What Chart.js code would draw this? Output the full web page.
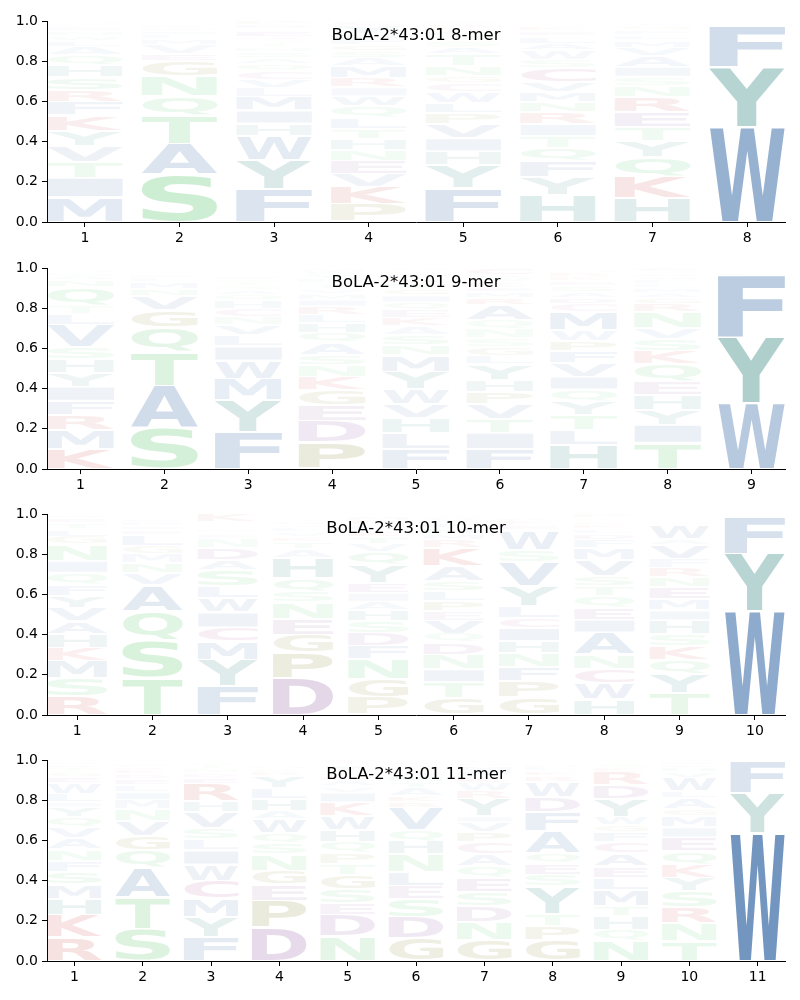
<!DOCTYPE html>
<html><head><meta charset="utf-8">
<script src="https://cdn.jsdelivr.net/npm/chart.js@4"></script>
<style>
body{margin:0;background:#fff;width:800px;height:1000px;position:relative;overflow:hidden}
canvas{position:absolute;left:0}
</style>
</head><body>
<canvas id="c0" width="800" height="246" style="top:1px"></canvas>
<canvas id="c1" width="800" height="246" style="top:248px"></canvas>
<canvas id="c2" width="800" height="246" style="top:494px"></canvas>
<canvas id="c3" width="800" height="246" style="top:740px"></canvas>
<script>
const titles = ["BoLA-2*43:01 8-mer","BoLA-2*43:01 9-mer","BoLA-2*43:01 10-mer","BoLA-2*43:01 11-mer"];

// letters per position, bottom -> top, with probabilities (stack heights)
const letters8 = ["MITVYKFRSHQALWNECG","SATQNGEVMLIDKRC","FYWHIMLVCQASNTGREKDP","PKVENHTLQWIRMASGFDYC",
  "FYHIVPLWCGNTASQMKRE","HYFQTIRNMVCSWALEKGDP","HKQYTERNSIAVMLFGWD","WYFLMI"];
const heights8 = [
  [.125,.095,.08,.08,.075,.075,.065,.06,.065,.06,.05,.04,.03,.025,.025,.02,.015,.015],
  [.235,.155,.14,.095,.1,.075,.035,.045,.03,.02,.02,.015,.015,.01,.01],
  [.165,.145,.12,.06,.065,.065,.045,.04,.045,.035,.03,.03,.025,.02,.015,.015,.03,.01,.02,.02],
  [.088,.087,.065,.065,.055,.055,.05,.055,.055,.05,.045,.045,.06,.04,.035,.03,.03,.025,.04,.025],
  [.167,.115,.07,.065,.07,.055,.05,.055,.045,.035,.05,.06,.035,.03,.025,.025,.02,.015,.013],
  [.133,.09,.08,.065,.06,.06,.06,.05,.05,.05,.07,.04,.045,.035,.035,.025,.02,.015,.012,.005],
  [.12,.105,.1,.08,.068,.075,.075,.055,.045,.05,.055,.04,.035,.025,.025,.02,.015,.012],
  [.475,.295,.205,.01,.008,.007]];

const letters9 = ["KMRFIYHSVLTQNAEGC","SATQGVNMLEIDKR","FYMWILVNCHQASTGERKPD","PDEGKNSAQHLRIMVTFYWC",
  "FLHVWYMNSAKEQIGTRDPC","FITVPHYLGSNQARMEKWDC","HLTYQIVFPWMCDASEKRGN","TIYHEQKSVNRGAMLFWDPC","WYFLMIH"];
const heights9 = [
  [.1,.095,.075,.07,.07,.07,.065,.06,.11,.055,.045,.09,.035,.02,.015,.015,.01],
  [.205,.21,.17,.12,.085,.07,.035,.035,.02,.015,.01,.01,.008,.007],
  [.185,.16,.105,.09,.07,.055,.05,.04,.04,.04,.03,.025,.02,.02,.015,.015,.01,.01,.01,.01],
  [.133,.105,.08,.075,.065,.06,.05,.06,.05,.05,.04,.04,.035,.03,.025,.025,.02,.02,.02,.017],
  [.1,.08,.075,.07,.075,.085,.08,.05,.05,.045,.04,.04,.04,.035,.03,.03,.025,.02,.015,.015],
  [.1,.08,.07,.075,.06,.06,.075,.04,.045,.045,.045,.045,.075,.035,.03,.025,.025,.02,.015,.035],
  [.12,.075,.075,.065,.06,.065,.065,.06,.05,.055,.09,.04,.03,.03,.03,.025,.02,.02,.015,.01],
  [.13,.09,.075,.075,.065,.085,.065,.06,.055,.08,.04,.03,.025,.025,.02,.02,.015,.015,.01,.02],
  [.33,.325,.305,.015,.01,.008,.007]];

const letters10 = ["RSMKHAVYFQINGLTEDW","TSQAVNMGLEIDFHKR","FYMCIWLSADNEGHTVQPK","DPGENSQHATKVLYRMIFW",
  "PGNFDSHAIEYQVTKLRMWC","GTINDQVEPLSAKRMHFYWC","GPFNHICLYVSWEKRMA","HWCNAIEQTSVMFDLKRGYP",
  "TYQKSHIMENRFVAWGLDCP","WYFLMI"];
const heights10 = [
  [.093,.09,.085,.065,.07,.065,.065,.06,.055,.06,.06,.08,.04,.035,.03,.025,.015,.007],
  [.185,.185,.145,.13,.06,.05,.045,.04,.055,.025,.02,.02,.015,.01,.008,.007],
  [.145,.13,.09,.07,.075,.07,.06,.08,.05,.06,.045,.02,.015,.015,.01,.01,.01,.005,.04],
  [.185,.125,.09,.08,.08,.055,.065,.1,.045,.035,.025,.025,.02,.015,.015,.01,.01,.01,.01],
  [.088,.09,.1,.065,.065,.06,.055,.04,.045,.05,.09,.065,.04,.035,.03,.025,.02,.02,.012,.005],
  [.083,.08,.065,.072,.06,.045,.065,.045,.05,.05,.05,.075,.09,.04,.03,.03,.025,.02,.015,.01],
  [.088,.08,.07,.07,.06,.065,.05,.06,.1,.12,.06,.095,.025,.02,.015,.012,.01],
  [.078,.082,.07,.07,.11,.065,.06,.055,.05,.05,.08,.06,.04,.03,.025,.02,.015,.01,.01,.02],
  [.11,.095,.07,.07,.06,.065,.05,.055,.06,.05,.045,.045,.07,.03,.07,.015,.01,.01,.01,.01],
  [.515,.285,.185,.006,.005,.004]];

const letters11 = ["RKHMSFNAVQYILWEGTDCP","STAQGVNMILEDKRFHP","FYMCWILSVHREDNTQA","DPEGNSQWAHLYRKMTVF",
  "NDESGTPQHWKIVARLMYFC","GDSELNHQVRKATMIPWFY","GNDSEQACPVIYRWKFMHL","GPTYSEQAFDWRKLMHI",
  "NQHTMLEACFGWYDRKSVI","TNRSYKQEIMGALWVHFDC","WYFLM"];
const heights11 = [
  [.118,.11,.082,.07,.065,.055,.055,.055,.055,.05,.05,.025,.04,.055,.03,.025,.02,.015,.015,.01],
  [.16,.155,.15,.085,.07,.075,.06,.045,.04,.035,.03,.025,.02,.015,.015,.01,.01],
  [.12,.1,.09,.09,.08,.07,.055,.055,.08,.055,.085,.03,.025,.02,.02,.015,.01],
  [.165,.135,.08,.07,.08,.055,.05,.07,.04,.06,.055,.06,.02,.015,.015,.01,.01,.01],
  [.123,.105,.06,.07,.07,.055,.055,.055,.06,.07,.065,.05,.03,.03,.02,.015,.012,.03,.005,.02],
  [.115,.105,.09,.065,.07,.085,.065,.055,.11,.03,.03,.04,.03,.03,.02,.02,.015,.015,.01],
  [.105,.09,.08,.07,.07,.055,.06,.06,.05,.05,.03,.085,.04,.04,.03,.03,.025,.015,.015],
  [.105,.07,.06,.135,.06,.055,.05,.11,.095,.075,.075,.03,.025,.02,.015,.01,.01],
  [.1,.055,.07,.05,.08,.06,.055,.065,.055,.05,.035,.04,.09,.07,.065,.02,.02,.01,.01],
  [.1,.09,.08,.08,.065,.065,.065,.07,.05,.055,.035,.055,.035,.065,.03,.02,.015,.015,.01],
  [.635,.2,.155,.005,.005]];

const yTicks = [0, 0.2, 0.4, 0.6, 0.8, 1.0];

const palette = {
  blue:[35,90,156], teal:[8,109,102], green:[42,183,64], olive:[103,103,0],
  purple:[109,39,131], red:[190,10,10], pink:[150,35,115]
};
const letterGroup = {A:'blue',V:'blue',L:'blue',I:'blue',M:'blue',F:'blue',W:'blue',
  Y:'teal',H:'teal',S:'green',T:'green',N:'green',Q:'green',G:'olive',P:'olive',
  D:'purple',E:'purple',K:'red',R:'red',C:'pink'};
function colorFor(l, h){
  const c = palette[letterGroup[l]];
  const a = Math.min(1, h);
  return 'rgba(' + c[0] + ',' + c[1] + ',' + c[2] + ',' + a + ')';
}

const panels = [
  {title:titles[0], letters:letters8, heights:heights8},
  {title:titles[1], letters:letters9, heights:heights9},
  {title:titles[2], letters:letters10, heights:heights10},
  {title:titles[3], letters:letters11, heights:heights11}
];

const logoPlugin = {
  id:'logo',
  afterDatasetsDraw(chart, args, opts){
    const ctx = chart.ctx;
    const meta = chart.getDatasetMeta(0);
    const ds = chart.data.datasets[0];
    ctx.save();
    ctx.font = 'bold 100px "DejaVu Sans"';
    ctx.textAlign = 'left';
    ctx.textBaseline = 'alphabetic';
    meta.data.forEach((el, i) => {
      const d = ds.data[i];
      const p = el.getProps(['x','y','base','width'], true);
      const top = Math.min(p.y, p.base) + 1;
      const bot = Math.max(p.y, p.base) - 1;
      const h = bot - top;
      if (h < 0.4) return;
      const m = ctx.measureText(d.l);
      const gw = m.actualBoundingBoxLeft + m.actualBoundingBoxRight;
      const gh = m.actualBoundingBoxAscent + m.actualBoundingBoxDescent;
      ctx.save();
      ctx.translate(p.x - p.width/2, top);
      ctx.scale(p.width/gw, h/gh);
      ctx.fillStyle = colorFor(d.l, d.h);
      ctx.fillText(d.l, m.actualBoundingBoxLeft, m.actualBoundingBoxAscent);
      ctx.restore();
    });
    ctx.restore();
    ctx.save();
    ctx.font = '16.5px "DejaVu Sans"';
    ctx.fillStyle = '#000';
    ctx.textAlign = 'center';
    ctx.textBaseline = 'alphabetic';
    const ca = chart.chartArea;
    ctx.fillText(opts.title, (ca.left + ca.right)/2, ca.top + 19);
    ctx.restore();
  }
};

panels.forEach((pn, idx) => {
  const n = pn.letters.length;
  const positions = pn.letters.map((_, i) => i + 1);
  const data = [];
  pn.letters.forEach((str, i) => {
    let lo = 0;
    for (let k = 0; k < str.length; k++) {
      const h = pn.heights[i][k];
      data.push({x: positions[i], y: [lo, lo + h], l: str[k], h: h});
      lo += h;
    }
  });
  new Chart(document.getElementById('c' + idx), {
    type:'bar',
    data:{datasets:[{data:data, backgroundColor:'rgba(0,0,0,0)', borderWidth:0,
      categoryPercentage:1.0, barPercentage:0.8}]},
    options:{
      responsive:false, animation:false, events:[],
      layout:{padding:{top:20, right:15, left:0, bottom:0}},
      plugins:{legend:{display:false}, tooltip:{enabled:false}, logo:{title:pn.title}},
      scales:{
        x:{type:'linear', min:0.6, max:n + 0.4, offset:false,
          afterBuildTicks:(s) => { s.ticks = positions.map(v => ({value:v})); },
          ticks:{font:{family:'DejaVu Sans', size:14}, color:'#000', padding:3, maxRotation:0, autoSkip:false,
            callback:(v) => String(v)},
          grid:{offset:false, drawOnChartArea:false, drawTicks:true, tickLength:5, color:'#000', lineWidth:1},
          border:{display:true, color:'#000', width:1},
          afterFit:(s) => { s.height = 25; }
        },
        y:{min:0, max:1,
          afterBuildTicks:(s) => { s.ticks = yTicks.map(v => ({value:v})); },
          ticks:{font:{family:'DejaVu Sans', size:14}, color:'#000', padding:4,
            callback:(v) => Number(v).toFixed(1)},
          grid:{drawOnChartArea:false, drawTicks:true, tickLength:5, color:'#000', lineWidth:1},
          border:{display:true, color:'#000', width:1},
          afterFit:(s) => { s.width = 47; }
        }
      }
    },
    plugins:[logoPlugin]
  });
});
</script>
</body></html>
